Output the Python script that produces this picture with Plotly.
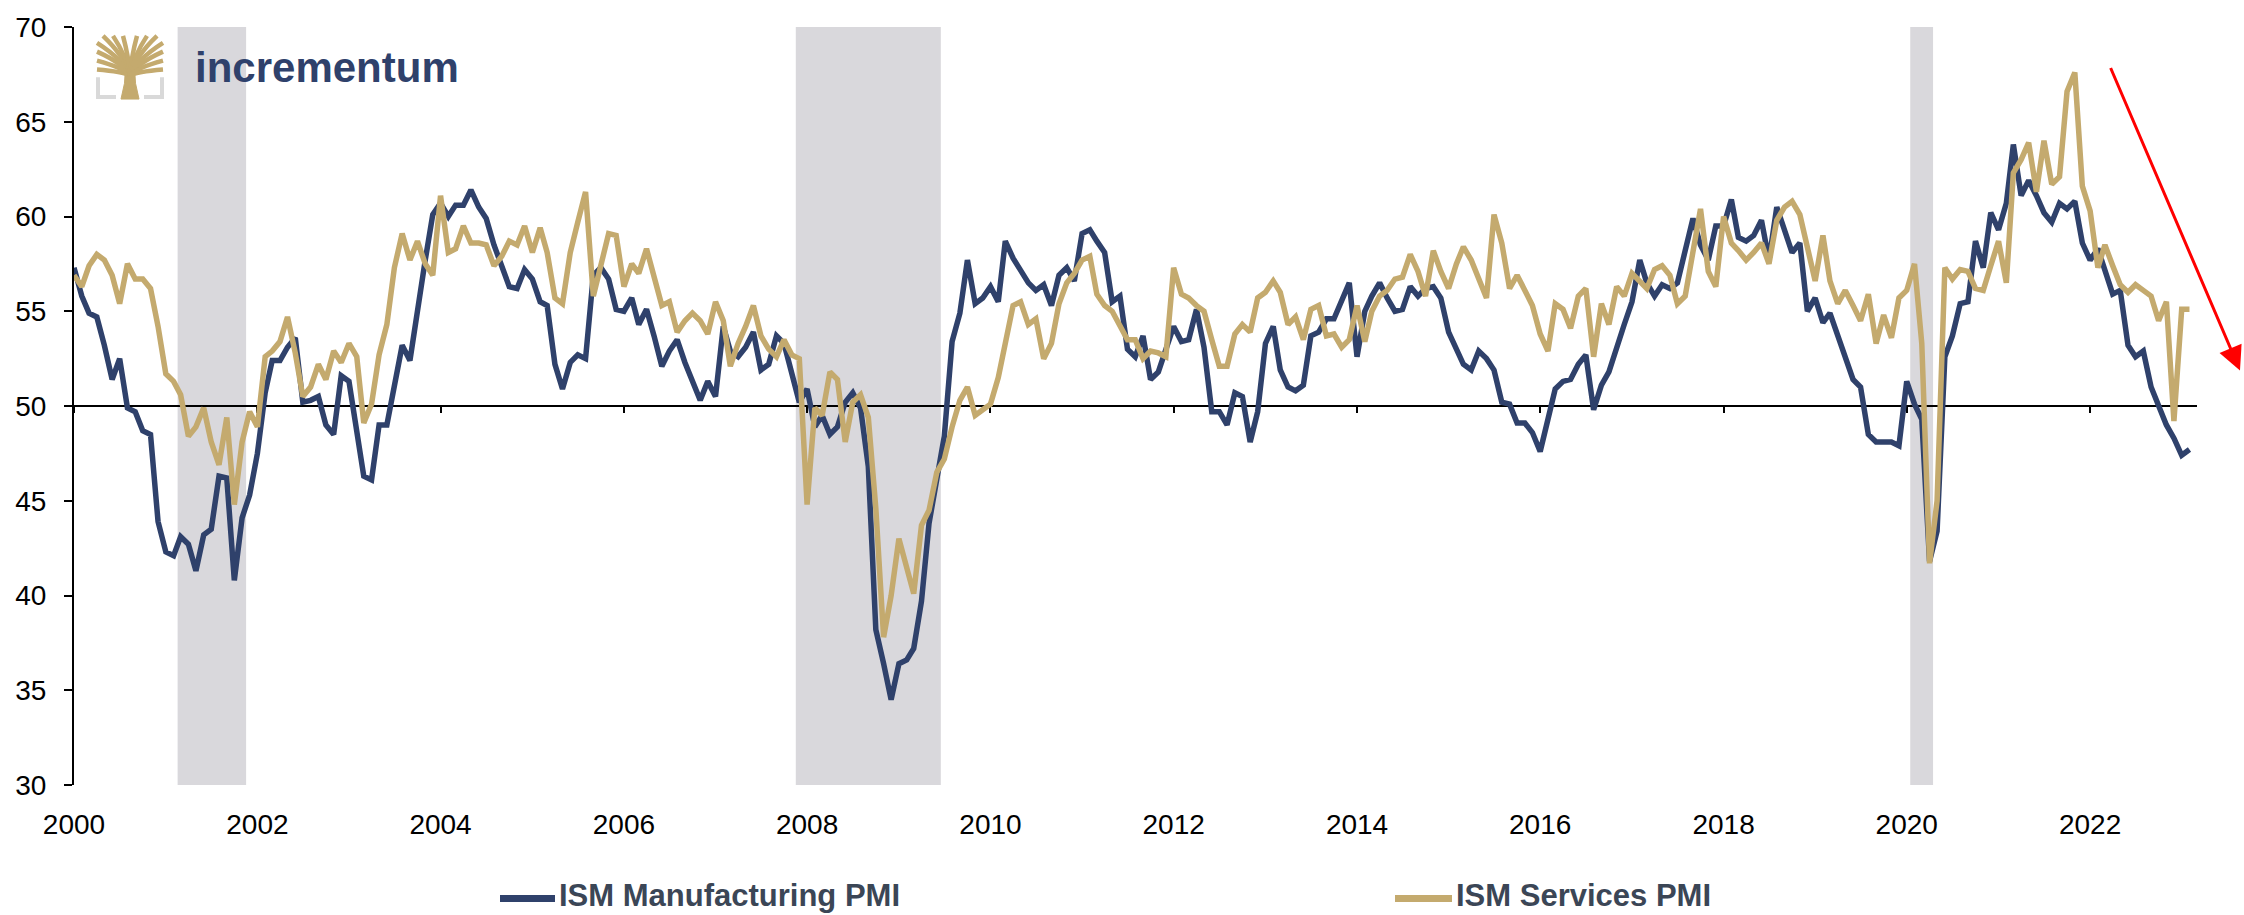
import pandas as pd
import plotly.graph_objects as go

# monthly readings, Jan 2000 - Feb 2023
dates = pd.date_range("2000-01-01", "2023-02-01", freq="MS")

manufacturing = [
    57.3, 55.8, 54.9, 54.7, 53.2, 51.4, 52.5, 49.9, 49.7, 48.7, 48.5, 43.9,  # 2000
    42.3, 42.1, 43.1, 42.7, 41.3, 43.2, 43.5, 46.3, 46.2, 40.8, 44.1, 45.3,  # 2001
    47.5, 50.7, 52.4, 52.4, 53.1, 53.6, 50.2, 50.3, 50.5, 49.0, 48.5, 51.6,  # 2002
    51.3, 48.8, 46.3, 46.1, 49.0, 49.0, 51.0, 53.2, 52.4, 55.2, 57.7, 60.1,  # 2003
    60.7, 60.0, 60.6, 60.6, 61.4, 60.5, 59.9, 58.5, 57.4, 56.3, 56.2, 57.2,  # 2004
    56.7, 55.5, 55.3, 52.2, 50.9, 52.3, 52.7, 52.5, 56.9, 57.3, 56.7, 55.1,  # 2005
    55.0, 55.7, 54.3, 55.1, 53.7, 52.1, 52.9, 53.5, 52.3, 51.4, 50.3, 51.3,  # 2006
    50.5, 54.2, 52.9, 52.6, 53.1, 53.9, 51.9, 52.2, 53.7, 53.3, 51.8, 50.2,  # 2007
    50.9, 48.9, 49.5, 48.5, 48.9, 50.2, 50.7, 49.9, 46.8, 38.2, 36.4, 34.5,  # 2008
    36.4, 36.6, 37.2, 39.7, 43.8, 46.2, 48.4, 53.4, 54.9, 57.7, 55.4, 55.7,  # 2009
    56.3, 55.5, 58.7, 57.8, 57.1, 56.5, 56.1, 56.4, 55.3, 56.9, 57.3, 56.6,  # 2010
    59.1, 59.3, 58.7, 58.1, 55.5, 55.8, 53.0, 52.6, 53.7, 51.4, 51.8, 53.1,  # 2011
    54.2, 53.4, 53.5, 55.1, 53.1, 49.7, 49.7, 49.0, 50.7, 50.5, 48.1, 49.7,  # 2012
    53.3, 54.2, 51.9, 51.0, 50.8, 51.1, 53.7, 53.9, 54.6, 54.6, 55.5, 56.5,  # 2013
    52.6, 55.0, 55.8, 56.5, 55.7, 55.0, 55.1, 56.3, 55.8, 56.2, 56.3, 55.7,  # 2014
    53.9, 53.0, 52.2, 51.9, 52.9, 52.5, 51.9, 50.2, 50.1, 49.1, 49.1, 48.6,  # 2015
    47.6, 49.3, 50.9, 51.3, 51.4, 52.2, 52.7, 49.8, 51.1, 51.8, 53.2, 54.3,  # 2016
    55.5, 57.7, 56.5, 55.8, 56.4, 56.2, 56.5, 58.2, 59.9, 58.5, 57.7, 59.5,  # 2017
    59.5, 60.9, 58.9, 58.7, 59.0, 59.8, 57.7, 60.5, 59.3, 58.1, 58.6, 55.0,  # 2018
    55.7, 54.4, 54.9, 53.7, 52.5, 51.4, 51.0, 48.5, 48.1, 48.1, 48.1, 47.9,  # 2019
    51.3, 50.1, 49.3, 41.8, 43.4, 52.6, 53.7, 55.4, 55.5, 58.7, 57.3, 60.2,  # 2020
    59.3, 60.7, 63.8, 61.1, 61.9, 61.1, 60.2, 59.7, 60.7, 60.4, 60.8, 58.6,  # 2021
    57.7, 58.3, 57.1, 55.9, 56.1, 53.2, 52.6, 52.9, 51.0, 50.1, 49.0, 48.3,  # 2022
    47.4, 47.7,                                                              # 2023
]

services = [
    56.9, 56.3, 57.4, 58.0, 57.7, 56.9, 55.4, 57.5, 56.7, 56.7, 56.2, 54.2,  # 2000
    51.7, 51.3, 50.6, 48.4, 48.9, 49.9, 48.1, 46.9, 49.4, 44.8, 48.1, 49.7,  # 2001
    48.9, 52.6, 52.9, 53.4, 54.7, 52.8, 50.5, 51.0, 52.2, 51.4, 52.9, 52.3,  # 2002
    53.3, 52.6, 49.1, 50.1, 52.7, 54.3, 57.3, 59.1, 57.7, 58.7, 57.5, 56.9,  # 2003
    61.1, 58.1, 58.3, 59.5, 58.6, 58.6, 58.5, 57.4, 57.9, 58.7, 58.5, 59.5,  # 2004
    58.1, 59.4, 58.1, 55.7, 55.4, 58.1, 59.7, 61.3, 55.8, 57.4, 59.1, 59.0,  # 2005
    56.3, 57.5, 57.0, 58.3, 56.9, 55.3, 55.5, 53.9, 54.5, 54.9, 54.5, 53.8,  # 2006
    55.5, 54.5, 52.1, 53.3, 54.2, 55.3, 53.7, 53.0, 52.6, 53.5, 52.7, 52.5,  # 2007
    44.8, 49.9, 49.5, 51.8, 51.4, 48.1, 50.2, 50.6, 49.4, 44.6, 37.8, 40.0,  # 2008
    43.0, 41.5, 40.1, 43.7, 44.5, 46.5, 47.2, 48.9, 50.3, 51.0, 49.5, 49.8,  # 2009
    50.1, 51.5, 53.3, 55.3, 55.5, 54.3, 54.6, 52.5, 53.3, 55.4, 56.5, 57.0,  # 2010
    57.7, 57.9, 55.9, 55.3, 55.0, 54.2, 53.5, 53.5, 52.5, 52.9, 52.8, 52.6,  # 2011
    57.3, 55.9, 55.7, 55.3, 55.0, 53.5, 52.1, 52.1, 53.8, 54.3, 53.9, 55.7,  # 2012
    56.0, 56.6, 56.0, 54.3, 54.7, 53.5, 55.1, 55.3, 53.7, 53.8, 53.1, 53.5,  # 2013
    55.3, 53.4, 55.0, 55.8, 56.1, 56.7, 56.8, 58.0, 57.1, 55.8, 58.2, 57.1,  # 2014
    56.2, 57.5, 58.4, 57.7, 56.7, 55.7, 60.1, 58.6, 56.2, 56.9, 56.1, 55.3,  # 2015
    53.8, 52.9, 55.4, 55.1, 54.1, 55.8, 56.2, 52.6, 55.4, 54.3, 56.3, 55.8,  # 2016
    57.0, 56.6, 56.2, 57.2, 57.4, 56.9, 55.4, 55.8, 58.2, 60.4, 57.1, 56.3,  # 2017
    60.0, 58.6, 58.2, 57.7, 58.1, 58.6, 57.5, 59.8, 60.5, 60.8, 60.1, 58.3,  # 2018
    56.6, 59.0, 56.6, 55.4, 56.1, 55.3, 54.5, 55.9, 53.3, 54.8, 53.6, 55.7,  # 2019
    56.1, 57.5, 53.3, 41.7, 45.0, 57.3, 56.7, 57.2, 57.1, 56.2, 56.1, 57.4,  # 2020
    58.7, 56.5, 62.3, 63.0, 63.9, 61.3, 64.0, 61.7, 62.1, 66.6, 67.6, 61.6,  # 2021
    60.3, 57.3, 58.5, 57.4, 56.4, 56.0, 56.4, 56.1, 55.8, 54.5, 55.5, 49.2,  # 2022
    55.1, 55.1,                                                              # 2023
]

recession_starts = ["2001-02-17", "2007-11-17", "2020-01-15"]
recession_ends = ["2001-11-17", "2009-06-17", "2020-04-15"]

series_names = ["ISM Manufacturing PMI", "ISM Services PMI"]

NAVY = "#2F416B"
GOLD = "#C4AA6E"
SHADE = "#D9D8DC"
TEXT = "#3B4656"
FONT = "Liberation Sans, Arial, sans-serif"

W, H = 2244, 915
L, R, T, B = 74, 2197, 17, 785  # plot area in pixels


def px(x):
    return (x - L) / (R - L)


def py(y):
    return (B - y) / (B - T)


def path(points, close=False):
    s = "M" + " L".join(f"{px(x):.5f},{py(y):.5f}" for x, y in points)
    return s + (" Z" if close else "")


fig = go.Figure()
fig.add_trace(go.Scatter(x=dates, y=manufacturing, mode="lines", name=series_names[0],
                         line=dict(color=NAVY, width=5.5)))
fig.add_trace(go.Scatter(x=dates, y=services, mode="lines", name=series_names[1],
                         line=dict(color=GOLD, width=5.5)))
# carrier for the 50-level axis line
fig.add_trace(go.Scatter(x=[dates[0]], y=[50], xaxis="x2", mode="markers",
                         marker=dict(opacity=0), showlegend=False, hoverinfo="skip"))

shapes = []
for x0, x1 in zip(recession_starts, recession_ends):
    shapes.append(dict(type="rect", xref="x", yref="paper", x0=x0, x1=x1, y0=0, y1=1,
                       fillcolor=SHADE, line=dict(width=0), layer="below"))

# logo: tree mark
trunk = [(121, 90), (139, 90), (135.5, 74), (134.5, 58), (125.5, 58), (124.5, 74)]
shapes.append(dict(type="path", xref="paper", yref="paper", path=path(trunk, True),
                   fillcolor=GOLD, line=dict(color=GOLD, width=1), layer="above"))
tips = [(97, 60), (97, 51), (97, 42), (97, 33), (103, 26), (113, 26), (123, 26),
        (137, 26), (147, 26), (157, 26), (163, 33), (163, 42), (163, 51), (163, 60)]
for ex, ey in tips:
    cx = 130 + (ex - 130) * 0.2
    cy = ey + (64 - ey) * 0.55
    p = f"M{px(130):.5f},{py(66):.5f} Q{px(cx):.5f},{py(cy):.5f} {px(ex):.5f},{py(ey):.5f}"
    shapes.append(dict(type="path", xref="paper", yref="paper", path=p,
                       line=dict(color=GOLD, width=4.5), layer="above"))
for pts in ([(98, 68), (98, 88), (116, 88)], [(144, 88), (162, 88), (162, 68)]):
    shapes.append(dict(type="path", xref="paper", yref="paper", path=path(pts),
                       line=dict(color="#D9D9D9", width=4), layer="above"))

# legend
legend_x = [(500, 555), (1395, 1452)]
legend_colors = [NAVY, GOLD]
for (x0, x1), c in zip(legend_x, legend_colors):
    shapes.append(dict(type="line", xref="paper", yref="paper", x0=px(x0), x1=px(x1),
                       y0=py(900), y1=py(900), line=dict(color=c, width=7)))

annotations = [
    dict(text="<b>incrementum</b>", xref="paper", yref="paper", x=px(193), y=py(58),
         xanchor="left", yanchor="middle", showarrow=False,
         font=dict(family=FONT, size=42, color=NAVY)),
    dict(text="", xref="paper", yref="paper", x=px(2240), y=py(365), ax=-130, ay=-304,
         showarrow=True, arrowhead=2, arrowsize=1.6, arrowwidth=3, arrowcolor="#FF0000",
         standoff=0),
]
for (x0, x1), name in zip(legend_x, series_names):
    annotations.append(dict(text=f"<b>{name}</b>", xref="paper", yref="paper",
                            x=px(x1 + 2), y=py(897), xanchor="left", yanchor="middle",
                            showarrow=False,
                            font=dict(family=FONT, size=31, color=TEXT)))

fig.update_layout(
    width=W, height=H,
    margin=dict(l=L, r=W - R, t=T, b=H - B),
    paper_bgcolor="white", plot_bgcolor="white",
    showlegend=False,
    font=dict(family=FONT, size=28, color="black"),
    xaxis=dict(range=["2000-01-01", "2023-03-03"], dtick="M24", tick0="2000-01-01",
               tickformat="%Y", showgrid=False, zeroline=False, showline=False,
               ticks="", ticklabelstandoff=20, tickfont=dict(size=28, color="black")),
    xaxis2=dict(overlaying="x", matches="x", anchor="free", position=0.5,
                dtick="M24", tick0="2000-01-01", showgrid=False, zeroline=False,
                showline=True, linecolor="black", linewidth=2, ticks="outside",
                ticklen=6, tickwidth=2, tickcolor="black", showticklabels=False,
                layer="below traces"),
    yaxis=dict(range=[30, 70], dtick=5, showgrid=False, zeroline=False, showline=True,
               linecolor="black", linewidth=2, ticks="outside", ticklen=8, tickwidth=2,
               tickcolor="black", ticklabelstandoff=12,
               tickfont=dict(size=28, color="black")),
    shapes=shapes,
    annotations=annotations,
)

fig.write_html("out.html", config={"displayModeBar": False},
               post_script="document.body.style.margin='0';")
